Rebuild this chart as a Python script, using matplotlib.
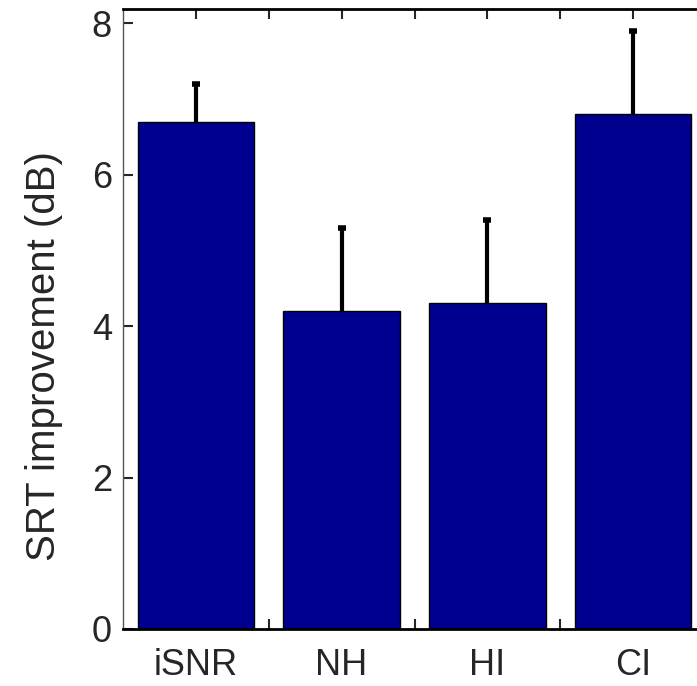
from matplotlib import pyplot as plt
import numpy as np

plt.rcParams['font.family'] = ['Liberation Sans', 'DejaVu Sans']

groups = ["iSNR", "NH", "HI", "CI"]
improvement = [6.7, 4.2, 4.3, 6.8]
err_up = [0.5, 1.1, 1.1, 1.1]

x = np.arange(1, len(groups) + 1)

fig = plt.figure(figsize=(6.97, 6.86), dpi=100)
ax = fig.add_axes([123/697, 1 - 629/686, 583/697, 620/686])

ax.bar(x, improvement, width=0.8, color="#00008F", edgecolor="black", linewidth=1, zorder=2)
eb = ax.errorbar(x, improvement, yerr=[np.zeros(len(x)), err_up], fmt="none",
                 ecolor="black", elinewidth=3, capsize=3, capthick=4, zorder=3)
# only the upper cap, like the original
eb[1][0].set_visible(False)

ax.set_xlim(0.5, 4.5)
ax.set_ylim(0, 8.19)
ax.set_yticks([0, 2, 4, 6, 8])
ax.set_xticks(x)
ax.set_xticks(x[:-1] + 0.5, minor=True)
ax.set_xticklabels(groups)
ax.tick_params(axis="both", which="both", direction="in", labelsize=26, colors="#262626",
               top=True, right=False, width=1.5)
ax.tick_params(axis="x", which="major", length=7, pad=14)
ax.tick_params(axis="x", which="minor", length=7)
ax.tick_params(axis="y", length=7, pad=8)
ax.spines["top"].set_linewidth(2)
ax.spines["bottom"].set_linewidth(2)
ax.spines["left"].set_linewidth(1)
ax.spines["left"].set_color("#555555")
ax.set_ylabel("SRT improvement (dB)", fontsize=29, color="#262626")
ax.yaxis.set_label_coords(-0.103, 0.44)

plt.savefig("out.png", dpi=100)
